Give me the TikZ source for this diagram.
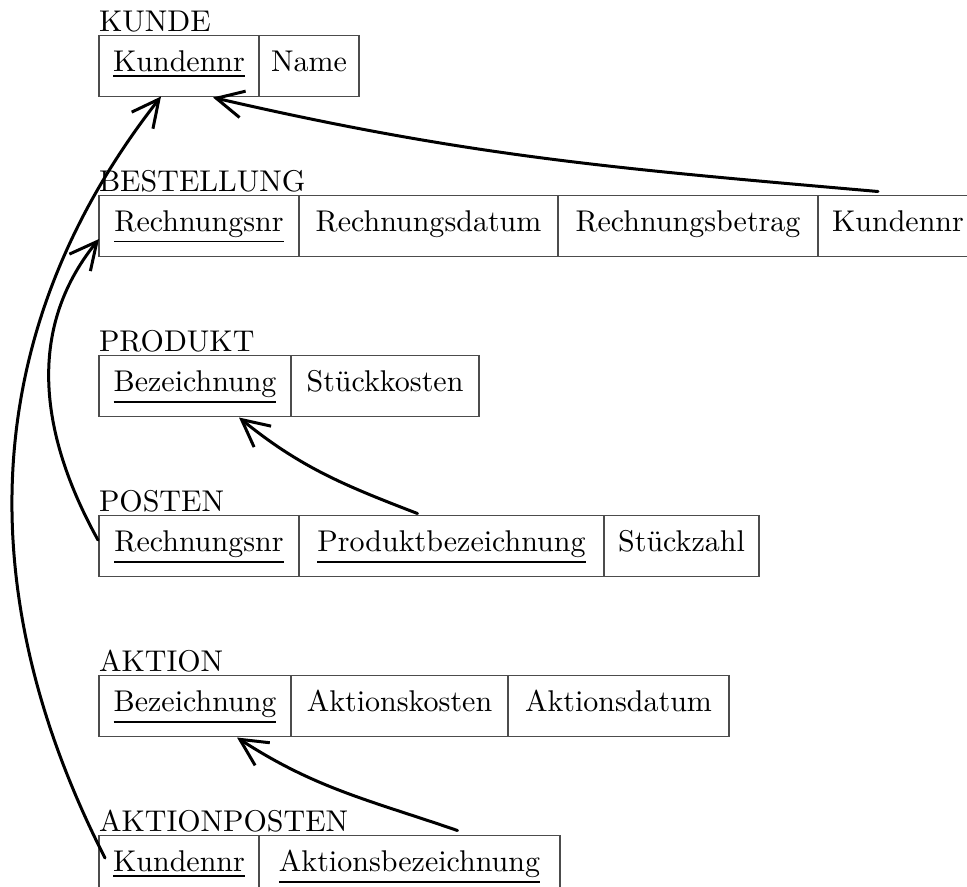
\documentclass[tikz,border=0pt]{standalone}
\usetikzlibrary{arrows.meta,calc}
\begin{document}
\begin{tikzpicture}[x=0.3333pt,y=0.3333pt,
  cell/.style={draw=black!70, line width=0.45pt, anchor=west, inner xsep=0pt,
    inner ysep=5pt, text height=7pt, text depth=3.33pt, outer sep=0pt,
    minimum width=#1*0.3333pt},
  ttl/.style={anchor=base west, inner sep=0pt, outer sep=0pt},
  fk/.style={line width=1pt, line cap=round, -{Straight Barb[length=9pt,width=9pt]}}]
\useasboundingbox (0,0) rectangle (967,-886);
\clip (0,0) rectangle (967,-886);

% KUNDE
\node[cell=160] (k1) at (99,-66) {\underline{Kundennr}};
\node[cell=100] (k2) at (k1.east) {Name};
\node[ttl] (tk) at ($(k1.north west)+(0,4)$) {KUNDE};

% BESTELLUNG
\node[cell=200] (b1) at (99,-226) {\underline{Rechnungsnr}};
\node[cell=259] (b2) at (b1.east) {Rechnungsdatum};
\node[cell=260] (b3) at (b2.east) {Rechnungsbetrag};
\node[cell=160] (b4) at (b3.east) {Kundennr};
\node[ttl] (tb) at ($(b1.north west)+(0,4)$) {BESTELLUNG};

% PRODUKT
\node[cell=192] (p1) at (99,-386) {\underline{Bezeichnung}};
\node[cell=188] (p2) at (p1.east) {Stückkosten};
\node[ttl] (tp) at ($(p1.north west)+(0,4)$) {PRODUKT};

% POSTEN
\node[cell=200] (o1) at (99,-546) {\underline{Rechnungsnr}};
\node[cell=305] (o2) at (o1.east) {\underline{Produktbezeichnung}};
\node[cell=155] (o3) at (o2.east) {Stückzahl};
\node[ttl] (tpo) at ($(o1.north west)+(0,4)$) {POSTEN};

% AKTION
\node[cell=192] (a1) at (99,-706) {\underline{Bezeichnung}};
\node[cell=217] (a2) at (a1.east) {Aktionskosten};
\node[cell=221] (a3) at (a2.east) {Aktionsdatum};
\node[ttl] (ta) at ($(a1.north west)+(0,4)$) {AKTION};

% AKTIONPOSTEN
\node[cell=160] (q1) at (99,-866) {\underline{Kundennr}};
\node[cell=301] (q2) at (q1.east) {\underline{Aktionsbezeichnung}};
\node[ttl] (taq) at ($(q1.north west)+(0,4)$) {AKTIONPOSTEN};

% foreign keys
\draw[fk] ($(b4.north)+(-20,4)$) to[out=175,in=-13] ($(k1.south)+(34,-1)$);
\draw[fk] ($(o2.north)+(-34,2)$) to[out=159,in=-39] ($(p1.south)+(44,-1)$);
\draw[fk] ($(o1.west)+(-1,6)$) to[out=119,in=231] ($(b1.west)+(0,-13)$);
\draw[fk] ($(q1.west)+(6,8)$) to[out=117,in=232] ($(k1.south)+(-18,0)$);
\draw[fk] ($(q2.north)+(48,5)$) to[out=161,in=-33] ($(a1.south)+(42,-1)$);
\end{tikzpicture}
\end{document}
